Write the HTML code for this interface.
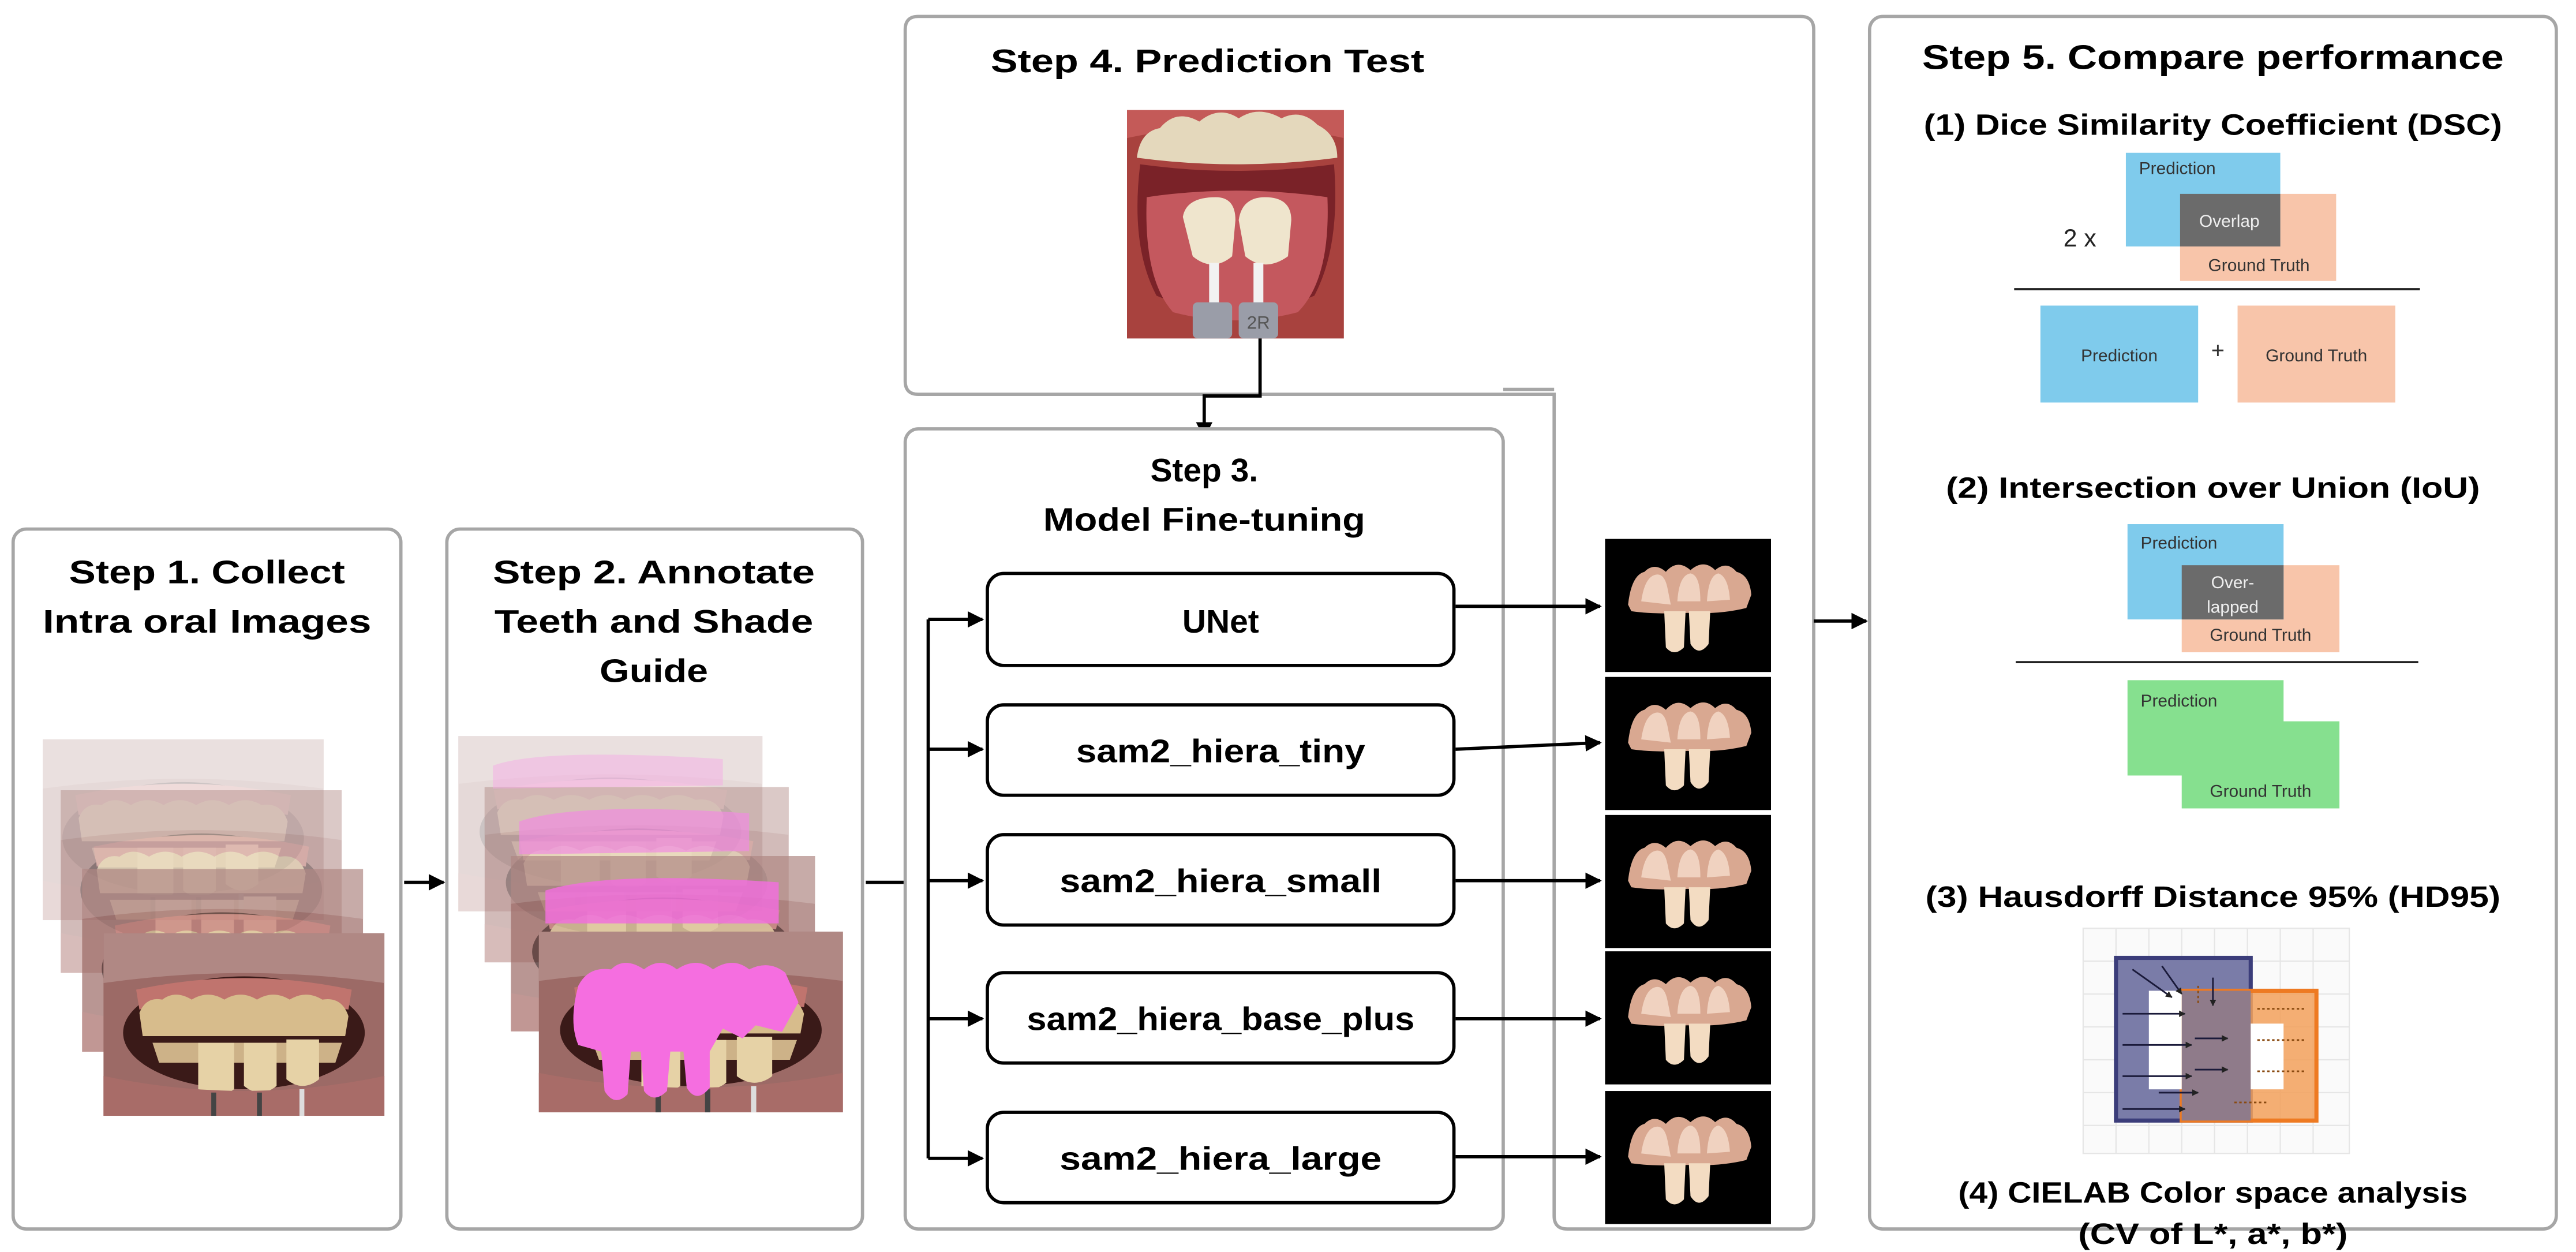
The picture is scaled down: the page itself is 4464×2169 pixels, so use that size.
<!DOCTYPE html>
<html><head><meta charset="utf-8"><style>html,body{margin:0;padding:0;background:#fff}svg{display:block}</style></head>
<body>
<svg xmlns="http://www.w3.org/2000/svg" width="4464" height="2169" viewBox="0 0 1568 762" preserveAspectRatio="none" font-family="Liberation Sans, sans-serif">
<defs>
<marker id="ah" viewBox="0 0 10 10" refX="9" refY="5" markerWidth="5" markerHeight="5" orient="auto"><path d="M0,0L10,5L0,10z" fill="#000"/></marker>
<marker id="as" viewBox="0 0 10 10" refX="9" refY="5" markerWidth="4" markerHeight="4" orient="auto"><path d="M0,0L10,5L0,10z" fill="#222"/></marker>
<g id="out">
<rect x="0" y="0" width="101" height="81" fill="#000"/>
<path d="M14,40 Q16,22 24,20 Q30,14 37,20 Q44,12 52,19 Q60,12 67,19 Q74,13 80,20 Q88,22 89,34 L86,42 Q70,46 50,45 Q30,46 16,44z" fill="#d9a891"/>
<path d="M22,38 Q24,24 30,22 Q36,20 38,30 L40,40z M44,38 Q45,22 52,21 Q58,22 58,38z M62,38 Q63,22 69,21 Q75,23 76,37z" fill="#f0d2c0"/>
<path d="M36,44 L49,44 L48,66 Q42,72 37,66z M51,44 L64,44 L63,64 Q57,72 52,64z" fill="#f3dcc2"/>
</g>
<g id="photo">
<rect width="172" height="110" fill="#9c6a66"/>
<path d="M0,0 H172 V30 Q86,18 0,30z" fill="#b08884"/>
<ellipse cx="86" cy="60" rx="74" ry="34" fill="#3a1a18"/>
<path d="M20,34 Q86,20 152,34 L150,46 Q86,36 22,46z" fill="#c0746e"/>
<path d="M22,48 Q26,38 36,40 Q44,34 54,40 Q64,34 74,40 Q84,34 94,40 Q104,34 114,40 Q124,34 134,40 Q146,38 150,50 L148,62 L24,62z" fill="#d7bc8c"/>
<path d="M30,66 L146,66 L142,78 L34,78z" fill="#cdb288"/>
<path d="M58,66 h22 v28 q-11,8 -22,0z M86,66 h20 v26 q-10,8 -20,0z M112,64 h20 v24 q-10,8 -20,0z" fill="#e6d2a6"/>
<path d="M0,86 Q86,104 172,86 V110 H0z" fill="#a86c68"/>
<rect x="66" y="96" width="3" height="14" fill="#444"/><rect x="94" y="96" width="3" height="14" fill="#444"/><rect x="120" y="94" width="3" height="16" fill="#ddd"/>
</g>
</defs>

<!-- Step 1 box -->
<rect x="8" y="322" width="236" height="426" rx="8" fill="#fff" stroke="#a6a6a6" stroke-width="2"/>
<text x="126" y="355" font-size="20" font-weight="bold" text-anchor="middle" textLength="168" lengthAdjust="spacingAndGlyphs">Step 1. Collect</text>
<text x="126" y="385" font-size="20" font-weight="bold" text-anchor="middle" textLength="200" lengthAdjust="spacingAndGlyphs">Intra oral Images</text>
<g opacity="0.25"><use href="#photo" transform="translate(26,450) scale(0.994,1)"/></g>
<g opacity="0.45"><use href="#photo" transform="translate(37,481) scale(0.994,1.01)"/></g>
<g opacity="0.7"><use href="#photo" transform="translate(50,529) scale(0.994,1.01)"/></g>
<use href="#photo" transform="translate(63,568) scale(0.994,1.01)"/>

<line x1="246" y1="537" x2="270" y2="537" stroke="#000" stroke-width="2" marker-end="url(#ah)"/>

<!-- Step 2 box -->
<rect x="272" y="322" width="253" height="426" rx="8" fill="#fff" stroke="#a6a6a6" stroke-width="2"/>
<text x="398" y="355" font-size="20" font-weight="bold" text-anchor="middle" textLength="196" lengthAdjust="spacingAndGlyphs">Step 2. Annotate</text>
<text x="398" y="385" font-size="20" font-weight="bold" text-anchor="middle" textLength="194" lengthAdjust="spacingAndGlyphs">Teeth and Shade</text>
<text x="398" y="415" font-size="20" font-weight="bold" text-anchor="middle" textLength="66" lengthAdjust="spacingAndGlyphs">Guide</text>
<g opacity="0.25"><use href="#photo" transform="translate(279,448) scale(1.076,0.97)"/></g>
<g opacity="0.45"><use href="#photo" transform="translate(295,479) scale(1.076,0.97)"/></g>
<g opacity="0.7"><use href="#photo" transform="translate(311,521) scale(1.076,0.97)"/></g>
<use href="#photo" transform="translate(328,567) scale(1.076,1)"/>
<path d="M300,466 Q330,455 440,462 L440,478 L300,480z" fill="#f6a6e6" opacity="0.45"/>
<path d="M316,500 Q350,488 456,495 L456,518 L316,520z" fill="#f08ce0" opacity="0.7"/>
<path d="M332,542 Q370,530 474,537 L474,562 L332,562z" fill="#f070dc" opacity="0.85"/>
<path d="M352,600 Q358,588 372,590 Q380,582 392,590 Q402,582 412,590 Q424,582 434,590 Q446,582 456,590 Q468,584 478,592 L486,610 L476,628 L460,624 L452,632 L440,626 L432,640 L432,662 Q424,672 418,662 L416,640 L408,640 L406,664 Q398,672 392,664 L390,640 L384,640 L382,666 Q374,674 368,664 L366,640 L352,636 Q346,622 352,600z" fill="#f56ee0"/>

<line x1="527" y1="537" x2="565" y2="537" stroke="#000" stroke-width="2"/>

<!-- Step 4 + outer structure -->
<path d="M559,10 H1096 Q1104,10 1104,18 V740 Q1104,748 1096,748 H954 Q946,748 946,740 V240 H559 Q551,240 551,232 V18 Q551,10 559,10z" fill="#fff" stroke="#a6a6a6" stroke-width="2"/>
<line x1="915" y1="237" x2="946" y2="237" stroke="#a6a6a6" stroke-width="2"/>
<text x="735" y="44" font-size="20" font-weight="bold" text-anchor="middle" textLength="264" lengthAdjust="spacingAndGlyphs">Step 4. Prediction Test</text>
<!-- step 4 photo -->
<rect x="686" y="67" width="132" height="139" fill="#a8423e"/>
<path d="M686,67 H818 V84 Q752,70 686,84z" fill="#c45a58"/>
<path d="M692,96 Q694,80 706,78 Q716,66 730,74 Q742,64 754,72 Q766,64 780,72 Q792,66 802,76 Q814,82 814,96 Q752,104 692,96z" fill="#e4d8bc"/>
<path d="M694,100 Q752,108 812,100 Q816,150 800,180 Q752,200 704,180 Q688,150 694,100z" fill="#7a2228"/>
<path d="M698,120 Q752,112 808,120 Q810,170 790,190 Q752,200 714,190 Q696,170 698,120z" fill="#c4585e"/>
<path d="M720,132 Q722,120 740,120 Q752,120 752,134 L750,156 Q738,166 726,156z M754,134 Q756,120 770,120 Q786,120 786,134 L784,156 Q770,166 758,156z" fill="#efe5cd"/>
<rect x="736" y="160" width="6" height="28" fill="#f2f2f2"/><rect x="763" y="160" width="6" height="28" fill="#f2f2f2"/>
<rect x="726" y="184" width="24" height="22" rx="3" fill="#9a9da8"/><rect x="754" y="184" width="24" height="22" rx="3" fill="#9a9da8"/>
<text x="766" y="200" font-size="11" fill="#555" text-anchor="middle">2R</text>
<polyline points="767,206 767,241 733,241 733,266" fill="none" stroke="#000" stroke-width="2" marker-end="url(#ah)"/>

<!-- Step 3 box -->
<rect x="551" y="261" width="364" height="487" rx="8" fill="#fff" stroke="#a6a6a6" stroke-width="2"/>
<text x="733" y="293" font-size="20" font-weight="bold" text-anchor="middle">Step 3.</text>
<text x="733" y="323" font-size="20" font-weight="bold" text-anchor="middle" textLength="196" lengthAdjust="spacingAndGlyphs">Model Fine-tuning</text>

<line x1="565" y1="377" x2="565" y2="705" stroke="#000" stroke-width="2"/>
<g stroke="#000" stroke-width="2" marker-end="url(#ah)">
<line x1="565" y1="377" x2="598" y2="377"/>
<line x1="565" y1="456" x2="598" y2="456"/>
<line x1="565" y1="536" x2="598" y2="536"/>
<line x1="565" y1="620" x2="598" y2="620"/>
<line x1="565" y1="705" x2="598" y2="705"/>
</g>
<g fill="#fff" stroke="#000" stroke-width="2">
<rect x="601" y="349" width="284" height="56" rx="10"/>
<rect x="601" y="429" width="284" height="55" rx="10"/>
<rect x="601" y="508" width="284" height="55" rx="10"/>
<rect x="601" y="592" width="284" height="55" rx="10"/>
<rect x="601" y="677" width="284" height="55" rx="10"/>
</g>
<g font-size="20" font-weight="bold" text-anchor="middle">
<text x="743" y="385">UNet</text>
<text x="743" y="464" textLength="176" lengthAdjust="spacingAndGlyphs">sam2_hiera_tiny</text>
<text x="743" y="543" textLength="196" lengthAdjust="spacingAndGlyphs">sam2_hiera_small</text>
<text x="743" y="627" textLength="236" lengthAdjust="spacingAndGlyphs">sam2_hiera_base_plus</text>
<text x="743" y="712" textLength="196" lengthAdjust="spacingAndGlyphs">sam2_hiera_large</text>
</g>
<g stroke="#000" stroke-width="2" marker-end="url(#ah)">
<line x1="886" y1="369" x2="974" y2="369"/>
<line x1="886" y1="456" x2="974" y2="452"/>
<line x1="886" y1="536" x2="974" y2="536"/>
<line x1="886" y1="620" x2="974" y2="620"/>
<line x1="886" y1="704" x2="974" y2="704"/>
</g>
<use href="#out" transform="translate(977,328)"/>
<use href="#out" transform="translate(977,412)"/>
<use href="#out" transform="translate(977,496)"/>
<use href="#out" transform="translate(977,579)"/>
<use href="#out" transform="translate(977,664)"/>

<line x1="1104" y1="378" x2="1136" y2="378" stroke="#000" stroke-width="2" marker-end="url(#ah)"/>

<!-- Step 5 -->
<rect x="1138" y="10" width="418" height="738" rx="8" fill="#fff" stroke="#a6a6a6" stroke-width="2"/>
<text x="1347" y="42" font-size="21" font-weight="bold" text-anchor="middle" textLength="354" lengthAdjust="spacingAndGlyphs">Step 5. Compare performance</text>
<text x="1347" y="82" font-size="18" font-weight="bold" text-anchor="middle" textLength="352" lengthAdjust="spacingAndGlyphs">(1) Dice Similarity Coefficient (DSC)</text>
<rect x="1327" y="118" width="95" height="53" fill="#f8c5aa"/>
<rect x="1294" y="93" width="94" height="57" fill="#7fcbec"/>
<rect x="1327" y="118" width="61" height="32" fill="#6b6b6b"/>
<text x="1302" y="106" font-size="10.5" fill="#333">Prediction</text>
<text x="1357" y="138" font-size="10.5" fill="#eee" text-anchor="middle">Overlap</text>
<text x="1375" y="165" font-size="10.5" fill="#333" text-anchor="middle">Ground Truth</text>
<text x="1266" y="150" font-size="15" fill="#222" text-anchor="middle">2 x</text>
<line x1="1226" y1="176" x2="1473" y2="176" stroke="#222" stroke-width="1.3"/>
<rect x="1242" y="186" width="96" height="59" fill="#7fcbec"/>
<rect x="1362" y="186" width="96" height="59" fill="#f8c5aa"/>
<text x="1290" y="220" font-size="10.5" fill="#333" text-anchor="middle">Prediction</text>
<text x="1350" y="218" font-size="14" fill="#333" text-anchor="middle">+</text>
<text x="1410" y="220" font-size="10.5" fill="#333" text-anchor="middle">Ground Truth</text>

<text x="1347" y="303" font-size="18" font-weight="bold" text-anchor="middle" textLength="325" lengthAdjust="spacingAndGlyphs">(2) Intersection over Union (IoU)</text>
<rect x="1328" y="344" width="96" height="53" fill="#f8c5aa"/>
<rect x="1295" y="319" width="95" height="58" fill="#7fcbec"/>
<rect x="1328" y="344" width="62" height="33" fill="#6b6b6b"/>
<text x="1303" y="334" font-size="10.5" fill="#333">Prediction</text>
<text x="1359" y="358" font-size="10.5" fill="#eee" text-anchor="middle">Over-</text>
<text x="1359" y="373" font-size="10.5" fill="#eee" text-anchor="middle">lapped</text>
<text x="1376" y="390" font-size="10.5" fill="#333" text-anchor="middle">Ground Truth</text>
<line x1="1227" y1="403" x2="1472" y2="403" stroke="#222" stroke-width="1.3"/>
<path d="M1295,414 H1390 V439 H1424 V492 H1328 V472 H1295z" fill="#86e08f"/>
<text x="1303" y="430" font-size="10.5" fill="#333">Prediction</text>
<text x="1376" y="485" font-size="10.5" fill="#333" text-anchor="middle">Ground Truth</text>

<text x="1347" y="552" font-size="18" font-weight="bold" text-anchor="middle" textLength="350" lengthAdjust="spacingAndGlyphs">(3) Hausdorff Distance 95% (HD95)</text>
<g stroke="#e6e6e6" stroke-width="0.8">
<rect x="1268" y="565" width="162" height="137" fill="#fafafa"/>
<path d="M1288,565V702M1308,565V702M1328,565V702M1348,565V702M1368,565V702M1388,565V702M1408,565V702M1268,585H1430M1268,605H1430M1268,625H1430M1268,645H1430M1268,665H1430M1268,685H1430"/>
</g>
<rect x="1288" y="583" width="82" height="99" fill="#7a7ca8" stroke="#3b3d7a" stroke-width="2.5"/>
<rect x="1328" y="603" width="82" height="79" fill="#f2a05a" stroke="#ee7a22" stroke-width="2.5" fill-opacity="0.85"/>
<rect x="1328" y="603" width="42" height="79" fill="#8f7b8a"/>
<rect x="1308" y="603" width="20" height="60" fill="#fff"/>
<rect x="1370" y="623" width="20" height="40" fill="#fff"/>
<g stroke="#1a1a3a" stroke-width="1" marker-end="url(#as)">
<line x1="1298" y1="590" x2="1322" y2="607"/><line x1="1316" y1="588" x2="1328" y2="605"/>
<line x1="1347" y1="595" x2="1347" y2="612"/>
<line x1="1292" y1="617" x2="1330" y2="617"/><line x1="1292" y1="636" x2="1334" y2="636"/>
<line x1="1292" y1="655" x2="1334" y2="655"/><line x1="1292" y1="675" x2="1330" y2="675"/>
<line x1="1336" y1="632" x2="1356" y2="632"/><line x1="1336" y1="651" x2="1356" y2="651"/>
<line x1="1314" y1="665" x2="1338" y2="665"/>
</g>
<g stroke="#8a4a10" stroke-width="1" stroke-dasharray="1.5,1.5">
<line x1="1374" y1="614" x2="1404" y2="614"/><line x1="1374" y1="633" x2="1404" y2="633"/>
<line x1="1374" y1="652" x2="1404" y2="652"/><line x1="1360" y1="671" x2="1380" y2="671"/>
<line x1="1338" y1="600" x2="1338" y2="612"/>
</g>
<text x="1347" y="732" font-size="18" font-weight="bold" text-anchor="middle" textLength="310" lengthAdjust="spacingAndGlyphs">(4) CIELAB Color space analysis</text>
<text x="1347" y="757" font-size="18" font-weight="bold" text-anchor="middle" textLength="164" lengthAdjust="spacingAndGlyphs">(CV of L*, a*, b*)</text>
</svg>
</body></html>
